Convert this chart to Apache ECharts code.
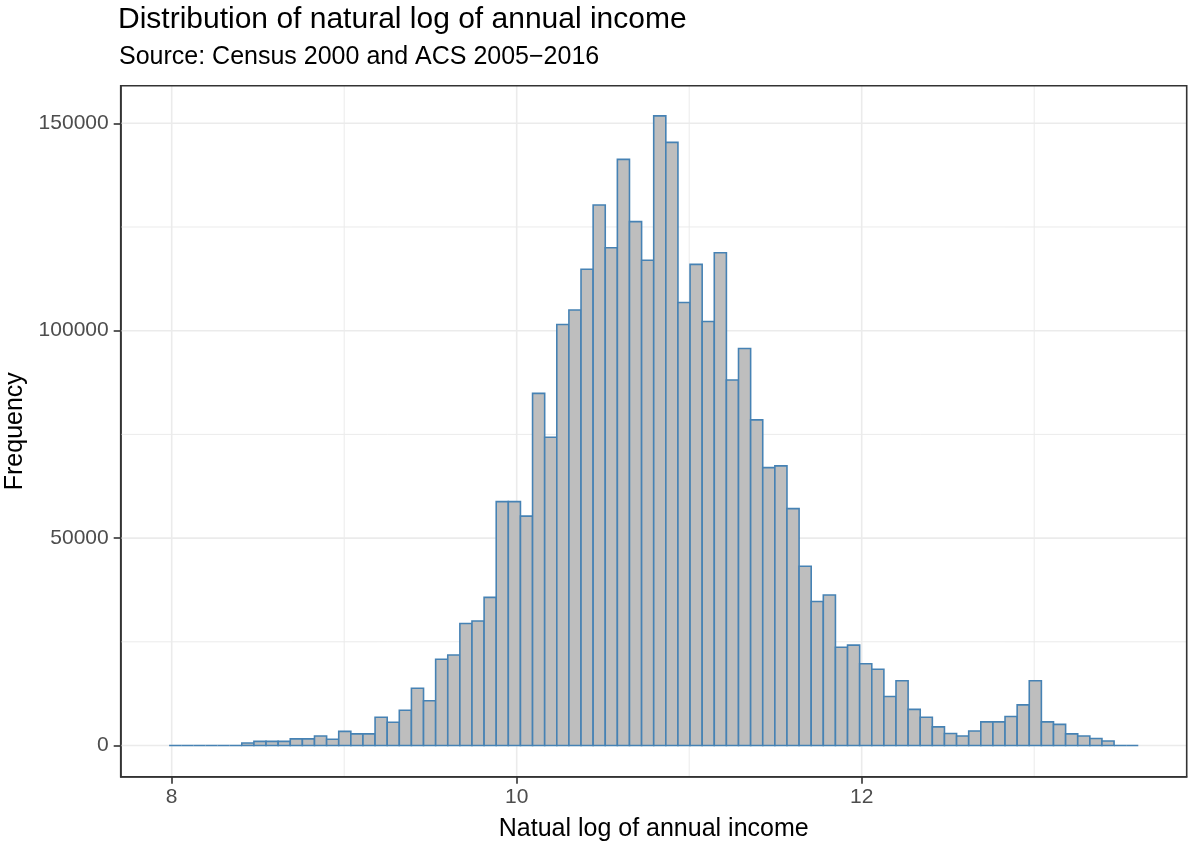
<!DOCTYPE html>
<html>
<head>
<meta charset="utf-8">
<script src="https://cdn.jsdelivr.net/npm/echarts@6.0.0/dist/echarts.min.js"></script>
<style>
  html, body { margin: 0; padding: 0; background: #ffffff; }
  #chart { width: 1188px; height: 842px; }
</style>
</head>
<body>
<div id="chart"></div>
<script>
// ---- Data ----
const titleText = 'Distribution of natural log of annual income';
const subtitleText = 'Source: Census 2000 and ACS 2005\u22122016';
const xAxisTitle = 'Natual log of annual income';
const yAxisTitle = 'Frequency';

// histogram bins: left edge of first bin and bin width (natural-log units)
const binStart = 7.985;
const binWidth = 0.07023;
// frequency per bin (80 bins)
const counts = [
  0, 0, 0, 0, 0, 0, 600, 1000, 1000, 1000,
  1600, 1600, 2300, 1500, 3400, 2800, 2800, 6800, 5600, 8500,
  13800, 10800, 20800, 21800, 29400, 30000, 35700, 58800, 58800, 55300,
  84900, 74300, 101500, 105000, 114800, 130300, 120000, 141300, 126300, 117000,
  151800, 145400, 106800, 116000, 102200, 118800, 88100, 95700, 78500, 67000,
  67400, 57100, 43200, 34700, 36300, 23700, 24200, 19700, 18400, 11800,
  15600, 8700, 6800, 4500, 2900, 2300, 3500, 5700, 5700, 7000,
  9800, 15600, 5700, 5100, 2800, 2300, 1700, 1100, 0, 0
];

const xTicks = [8, 10, 12];
const xMinorTicks = [9, 11, 13];
const yTicks = [0, 50000, 100000, 150000];
const yMinorTicks = [25000, 75000, 125000];
const xRange = [7.7043, 13.884];
const yRange = [-7522, 159064];

// ---- Build series data ----
const barData = counts.map((c, i) => [binStart + i * binWidth, binStart + (i + 1) * binWidth, c]);
// [orientation (0 = vertical line at x, 1 = horizontal line at y), value, isMajor]
const gridData = []
  .concat(xMinorTicks.map(v => [0, v, 0]))
  .concat(yMinorTicks.map(v => [1, v, 0]))
  .concat(xTicks.map(v => [0, v, 1]))
  .concat(yTicks.map(v => [1, v, 1]));

const FONT = '"Liberation Sans", Arial, sans-serif';

const chart = echarts.init(document.getElementById('chart'), null, { renderer: 'canvas' });

const option = {
  animation: false,
  backgroundColor: '#ffffff',
  title: [
    {
      text: titleText,
      left: 118,
      top: 5,
      padding: 0,
      textStyle: { fontFamily: FONT, fontSize: 30, fontWeight: 'normal', color: '#000000' }
    },
    {
      text: subtitleText,
      left: 119,
      top: 45,
      padding: 0,
      textStyle: { fontFamily: FONT, fontSize: 25, fontWeight: 'normal', color: '#000000' }
    }
  ],
  grid: {
    left: 120.7,
    top: 85.7,
    right: 1.3,
    bottom: 65.3,
    containLabel: false,
    outerBoundsMode: 'none',
    show: true,
    z: 10,
    backgroundColor: 'transparent',
    borderColor: '#333333',
    borderWidth: 1.6
  },
  xAxis: {
    type: 'value',
    min: xRange[0],
    max: xRange[1],
    name: xAxisTitle,
    nameLocation: 'middle',
    nameGap: 40,
    nameTextStyle: { fontFamily: FONT, fontSize: 25, color: '#000000' },
    axisLine: { show: true, onZero: false, lineStyle: { color: '#333333', width: 1.6 } },
    splitLine: { show: false },
    axisTick: {
      show: true, inside: false, length: 7,
      customValues: xTicks,
      lineStyle: { color: '#333333', width: 1.6 }
    },
    axisLabel: {
      show: true, margin: 10,
      customValues: xTicks,
      formatter: function (v) { return String(v); },
      fontFamily: FONT, fontSize: 21, color: '#4d4d4d'
    }
  },
  yAxis: {
    type: 'value',
    min: yRange[0],
    max: yRange[1],
    name: yAxisTitle,
    nameLocation: 'middle',
    nameGap: 92,
    nameRotate: 90,
    nameTextStyle: { fontFamily: FONT, fontSize: 25, color: '#000000' },
    axisLine: { show: true, onZero: false, lineStyle: { color: '#333333', width: 1.6 } },
    splitLine: { show: false },
    axisTick: {
      show: true, inside: false, length: 7,
      customValues: yTicks,
      lineStyle: { color: '#333333', width: 1.6 }
    },
    axisLabel: {
      show: true, margin: 12,
      customValues: yTicks,
      formatter: function (v) { return String(v); },
      fontFamily: FONT, fontSize: 21, color: '#4d4d4d'
    }
  },
  series: [
    {
      name: 'grid',
      type: 'custom',
      z: 1,
      silent: true,
      clip: true,
      data: gridData,
      renderItem: function (params, api) {
        const orient = api.value(0);
        const v = api.value(1);
        const major = api.value(2);
        let p1, p2;
        if (orient === 0) {
          p1 = api.coord([v, yRange[0]]);
          p2 = api.coord([v, yRange[1]]);
        } else {
          p1 = api.coord([xRange[0], v]);
          p2 = api.coord([xRange[1], v]);
        }
        return {
          type: 'line',
          shape: { x1: p1[0], y1: p1[1], x2: p2[0], y2: p2[1] },
          style: { stroke: '#ebebeb', lineWidth: major ? 1.6 : 1.0 }
        };
      }
    },
    {
      name: 'Frequency',
      type: 'custom',
      z: 2,
      clip: true,
      encode: { x: [0, 1], y: 2 },
      data: barData,
      renderItem: function (params, api) {
        const a = api.coord([api.value(0), 0]);
        const b = api.coord([api.value(1), api.value(2)]);
        return {
          type: 'rect',
          shape: { x: a[0], y: b[1], width: b[0] - a[0], height: a[1] - b[1] },
          style: { fill: '#bebebe', stroke: '#4682b4', lineWidth: 1.6 }
        };
      }
    }
  ]
};

chart.setOption(option);
</script>
</body>
</html>
